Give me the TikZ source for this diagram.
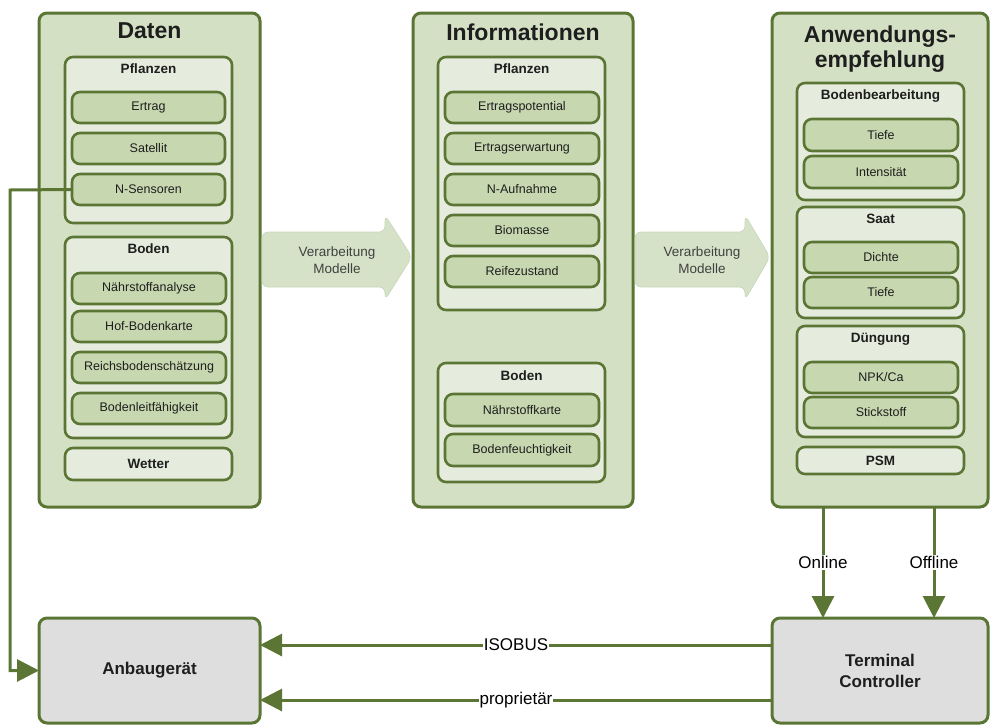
\documentclass[tikz,border=0pt]{standalone}
\usepackage{fontspec}
\setmainfont{Liberation Sans}
\usetikzlibrary{arrows.meta,calc}
\definecolor{leaf}{HTML}{5B7634}
\definecolor{panelfill}{HTML}{D4E0C4}
\definecolor{groupfill}{HTML}{E6ECDD}
\definecolor{itemfill}{HTML}{C7D8B0}
\definecolor{devicefill}{HTML}{DEDEDE}
\definecolor{flowfill}{HTML}{D6E2C8}
\definecolor{flowedge}{HTML}{C9D5BC}
\definecolor{ink}{HTML}{1E1E1E}
\begin{document}
\begin{tikzpicture}[x=1pt,y=-1pt,
  dims/.style 2 args={minimum width=#1pt, minimum height=#2pt},
  base/.style={draw=leaf, rounded corners=8pt, inner sep=0pt, outer sep=0pt, anchor=north west},
  panel/.style={base, line width=3pt, fill=panelfill},
  group/.style={base, line width=2.6pt, fill=groupfill},
  item/.style={base, line width=2.6pt, fill=itemfill, text=ink, font=\fontsize{12.5}{14}\selectfont},
  solo/.style={base, line width=2.6pt, fill=groupfill, text=ink, font=\bfseries\fontsize{13.5}{15}\selectfont},
  device/.style={base, line width=3pt, fill=devicefill, text=ink, align=center, font=\bfseries\fontsize{17}{21}\selectfont},
  paneltitle/.style={text=ink, align=center, font=\bfseries\fontsize{23}{25}\selectfont},
  grouptitle/.style={text=ink, font=\bfseries\fontsize{13.5}{15}\selectfont},
  flow/.style={fill=flowfill, draw=flowedge, line width=0.6pt, rounded corners=6pt},
  flowtext/.style={text=ink!85, align=center, font=\fontsize{13.5}{17}\selectfont},
  conn/.style={draw=leaf, line width=3pt, -{Triangle[length=22pt,width=22pt]}},
  connlabel/.style={fill=white, inner sep=1pt, text=black, font=\fontsize{17}{19}\selectfont}
]
\useasboundingbox (0,0) rectangle (990,726);

% ---------- panel: Daten ----------
\node[panel, dims={221}{494}] (daten) at (39,13) {};
\node[paneltitle] (datenT) at ($(daten.north)+(0,18)$) {Daten};

\node[group, dims={167}{166}] (dPfl) at (65,57) {};
\node[grouptitle] (dPflT) at ($(dPfl.north)+(0,12)$) {Pflanzen};
\node[item, dims={153}{31}] (ertrag) at (72,92) {Ertrag};
\node[item, dims={153}{31}] (satellit) at (72,133) {Satellit};
\node[item, dims={153}{31}] (nsens) at (72,174) {N-Sensoren};

\node[group, dims={167}{201}] (dBod) at (65,237) {};
\node[grouptitle] (dBodT) at ($(dBod.north)+(0,12)$) {Boden};
\node[item, dims={154}{31}] (naehr) at (72,273) {Nährstoffanalyse};
\node[item, dims={154}{31}] (hof) at (72,311) {Hof-Bodenkarte};
\node[item, dims={154}{31}] (reichs) at (72,352) {Reichsbodenschätzung};
\node[item, dims={154}{31}] (leitf) at (72,393) {Bodenleitfähigkeit};

\node[solo, dims={167}{32}] (wetter) at (65,448) {Wetter};

% ---------- panel: Informationen ----------
\node[panel, dims={220}{494}] (info) at (413,13) {};
\node[paneltitle] (infoT) at ($(info.north)+(0,19)$) {Informationen};

\node[group, dims={167}{253}] (iPfl) at (438,57) {};
\node[grouptitle] (iPflT) at ($(iPfl.north)+(0,12)$) {Pflanzen};
\node[item, dims={154}{31}] (epot) at (445,92) {Ertragspotential};
\node[item, dims={154}{31}] (eerw) at (445,133) {Ertragserwartung};
\node[item, dims={154}{31}] (nauf) at (445,174) {N-Aufnahme};
\node[item, dims={154}{31}] (biom) at (445,215) {Biomasse};
\node[item, dims={154}{31}] (reife) at (445,256) {Reifezustand};

\node[group, dims={167}{119}] (iBod) at (438,363) {};
\node[grouptitle] (iBodT) at ($(iBod.north)+(0,13)$) {Boden};
\node[item, dims={154}{32}] (nkarte) at (445,394) {Nährstoffkarte};
\node[item, dims={154}{32}] (bfeucht) at (445,434) {Bodenfeuchtigkeit};

% ---------- panel: Anwendungsempfehlung ----------
\node[panel, dims={216}{494}] (anw) at (772,13) {};
\node[paneltitle] (anwT) at ($(anw.north)+(0,36)$) {Anwendungs-\\empfehlung};

\node[group, dims={167}{117}] (bb) at (797,83) {};
\node[grouptitle] (bbT) at ($(bb.north)+(0,13)$) {Bodenbearbeitung};
\node[item, dims={154}{32}] (bbTiefe) at (804,119) {Tiefe};
\node[item, dims={154}{32}] (bbInt) at (804,156) {Intensität};

\node[group, dims={167}{111}] (saat) at (797,207) {};
\node[grouptitle] (saatT) at ($(saat.north)+(0,12)$) {Saat};
\node[item, dims={154}{31}] (dichte) at (804,242) {Dichte};
\node[item, dims={154}{31}] (sTiefe) at (804,277) {Tiefe};

\node[group, dims={167}{111}] (dueng) at (797,326) {};
\node[grouptitle] (duengT) at ($(dueng.north)+(0,13)$) {Düngung};
\node[item, dims={154}{31}] (npk) at (804,362) {NPK/Ca};
\node[item, dims={154}{31}] (stick) at (804,397) {Stickstoff};

\node[solo, dims={167}{27}] (psm) at (797,447) {PSM};

% ---------- processing arrows ----------
\draw[flow] (262,232) -- (385,232) -- (385,215) -- (412,257) -- (385,300) -- (385,287) -- (262,287) -- cycle;
\node[flowtext] (proc1) at (337,260) {Verarbeitung\\Modelle};
\draw[flow] (635,232) -- (745,232) -- (745,215) -- (770,257) -- (745,300) -- (745,287) -- (635,287) -- cycle;
\node[flowtext] (proc2) at (702,260) {Verarbeitung\\Modelle};

% ---------- devices ----------
\node[device, dims={221}{105}] (anbau) at (39,618) {Anbaugerät};
\node[device, dims={216}{105}] (term) at (772,618) {Terminal\\Controller};

% ---------- connectors ----------
\coordinate (loop) at (10,190);
\draw[conn] (nsens.west) -- (loop) |- (anbau.west);

\coordinate (onTop) at (823,507);
\coordinate (offTop) at (934,507);
\draw[conn] (onTop) -- (onTop |- term.north) node[connlabel, midway] (onlineL) {Online};
\draw[conn] (offTop) -- (offTop |- term.north) node[connlabel, midway] (offlineL) {Offline};

\coordinate (isoR) at ($(term.north west)+(0,27)$);
\coordinate (propR) at ($(term.north west)+(0,82)$);
\draw[conn] (isoR) -- (isoR -| anbau.east) node[connlabel, pos=0.5, inner sep=0.5pt] (isoL) {ISOBUS};
\draw[conn] (propR) -- (propR -| anbau.east) node[connlabel, pos=0.5, inner sep=0.5pt] (propL) {proprietär};
\end{tikzpicture}
\end{document}
